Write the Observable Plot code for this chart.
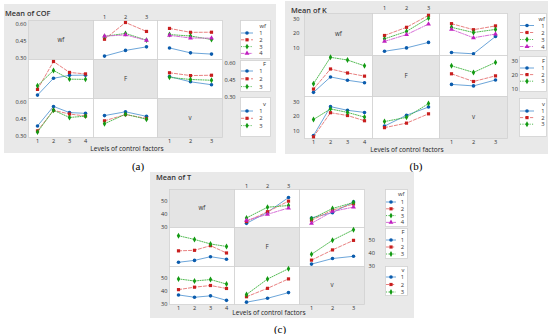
<!DOCTYPE html>
<html><head><meta charset="utf-8">
<script src="https://cdn.jsdelivr.net/npm/d3@7"></script>
<script src="https://cdn.jsdelivr.net/npm/@observablehq/plot@0.6"></script>
<style>
body{margin:0;background:#fff;font-family:"Open Sans",sans-serif;}
#root{position:relative;width:550px;height:334px;overflow:hidden;background:#fff;}
</style></head><body><div id="root"></div><script>
// ---------- data ----------
const factorNames = ["wf", "F", "v"];
const wfLevels = ["1", "2", "3", "4"];
const fLevels = ["1", "2", "3"];
const vLevels = ["1", "2", "3"];
const factorLevels = [wfLevels, fLevels, vLevels];

// COF means: rows = first factor level, cols = second factor level
const cofWfF = [[0.317, 0.368, 0.400], [0.468, 0.618, 0.538], [0.494, 0.520, 0.460], [0.496, 0.507, 0.458]];
const cofWfV = [[0.390, 0.346, 0.335], [0.565, 0.530, 0.531], [0.510, 0.497, 0.466], [0.503, 0.479, 0.478]];
const cofFV = [[0.483, 0.436, 0.410], [0.517, 0.492, 0.495], [0.476, 0.457, 0.450]];
// K means
const kWfF = [[7.5, 9.9, 13.8], [18.7, 24.5, 33.0], [16.3, 21.6, 31.0], [14.5, 19.3, 26.8]];
const kWfV = [[6.6, 5.7, 18.0], [27.1, 22.8, 25.5], [24.5, 20.8, 23.0], [23.0, 17.1, 19.7]];
const kFV = [[13.3, 12.2, 16.5], [21.0, 15.4, 19.5], [26.8, 22.0, 29.3]];
// T means
const tWfF = [[33.0, 41.6, 53.0], [34.4, 42.0, 50.2], [37.2, 45.5, 46.8], [35.3, 40.0, 44.9]];
const tWfV = [[37.2, 41.3, 49.6], [35.4, 43.2, 48.0], [36.5, 44.5, 49.1], [33.0, 42.2, 45.6]];
const tFV = [[31.6, 35.8, 37.5], [34.6, 42.3, 49.5], [39.0, 49.6, 57.5]];

const cofTicks = [0.30, 0.45, 0.60];
const kTicks = [10, 20, 30];
const tTicks = [30, 40, 50];

// ---------- styles ----------
const seriesStroke = ["#5b9bd5", "#e57373", "#3fb33f", "#d35fd3"];
const seriesFill = ["#0b5cad", "#c81e1e", "#139a13", "#c020c0"];
const seriesDash = [null, "3.2,1.8", "1.1,1.3", "3.5,1.3,1,1.3"];
const seriesSymbol = ["circle", "square", "diamond", "triangle"];
const d3Symbols = [d3.symbolCircle, d3.symbolSquare, d3.symbolDiamond, d3.symbolTriangle];
const DOT_R = 1.8;
const FONT = "'Open Sans', sans-serif";

const panels = [
  {
    tables: {"01": cofWfF, "02": cofWfV, "12": cofFV},
    box: [4, 4, 272, 149], title: "Mean of COF", titleXY: [5, 14],
    grid: {x: 28, y: 20, cw: 64.7, ch: 39},
    yDomain: [0.2866, 0.636], ticks: cofTicks, fmt: d3.format(".2f"),
    pad: {left: 2, right: 2, top: 2, bottom: 1.6},
    legend: {x: 240, w: 31, sw: [1, 13], mx: 7, lx: 21, tx: 26,
      boxes: [{t: 20, b: 59, ty: 26, fy: 33, p: 6.8}, {t: 60, b: 92, ty: 63.5, fy: 71, p: 7.8}, {t: 97, b: 137, ty: 104, fy: 111, p: 7.3}]},
    xlab: [127, 149], tag: "(a)", tagXY: [138, 166]
  },
  {
    tables: {"01": kWfF, "02": kWfV, "12": kFV},
    box: [285, 1, 263, 153], title: "Mean of K", titleXY: [291, 10.5],
    grid: {x: 304, y: 13, cw: 67.7, ch: 41.7},
    yDomain: [4.5, 34.3], ticks: kTicks, fmt: d3.format("d"),
    pad: {left: 5, right: 4, top: 3.5, bottom: 2},
    legend: {x: 519, w: 28, sw: [1, 15], mx: 8, lx: 24, tx: 26,
      boxes: [{t: 13, b: 51, ty: 19, fy: 25.5, p: 7}, {t: 56, b: 92, ty: 61, fy: 68, p: 6.6}, {t: 98, b: 137, ty: 104, fy: 111, p: 6.6}]},
    xlab: [407, 150], tag: "(b)", tagXY: [416, 166]
  },
  {
    tables: {"01": tWfF, "02": tWfV, "12": tFV},
    box: [150, 172, 264, 146], title: "Mean of T", titleXY: [156, 178],
    grid: {x: 169, y: 189, cw: 65, ch: 38.3},
    yDomain: [29.8, 59.2], ticks: tTicks, fmt: d3.format("d"),
    pad: {left: 2, right: 4, top: 2, bottom: 1.4},
    legend: {x: 385, w: 23, sw: [1, 11], mx: 6, lx: 17.5, tx: 19.5,
      boxes: [{t: 189, b: 227, ty: 194, fy: 202, p: 6.8}, {t: 228, b: 259, ty: 232, fy: 240, p: 7}, {t: 266, b: 296, ty: 270, fy: 277, p: 7.5}]},
    xlab: [269, 313], tag: "(c)", tagXY: [280, 329]
  }
];

const root = document.getElementById("root");

function txt(s, x, y, css, anchor) {
  const d = document.createElement("div");
  d.textContent = s;
  d.style.cssText = `position:absolute;left:${x}px;top:${y}px;line-height:1;white-space:nowrap;transform:translate(${anchor === "start" ? "0" : "-50%"},-50%);${css}`;
  root.appendChild(d);
}

function value(P, r, c, s, k) {
  return r < c ? P.tables[`${r}${c}`][s][k] : P.tables[`${c}${r}`][k][s];
}

function drawLegend(L, box, f) {
  const levels = factorLevels[f];
  const w = L.w, h = box.b - box.t;
  const svg = d3.create("svg").attr("width", w).attr("height", h)
    .style("position", "absolute").style("left", L.x + "px").style("top", box.t + "px")
    .style("overflow", "visible").style("font-family", FONT).style("font-size", "5.8px");
  svg.append("rect").attr("x", 0.5).attr("y", 0.5).attr("width", w - 1).attr("height", h - 1)
    .attr("fill", "#fff").attr("stroke", "#d2d2d2").attr("stroke-width", 0.8);
  svg.append("text").attr("x", L.tx).attr("y", box.ty - box.t).attr("dy", "0.35em")
    .attr("text-anchor", "end").attr("fill", "#333").text(factorNames[f]);
  levels.forEach((lv, i) => {
    const y = box.fy - box.t + i * box.p;
    svg.append("line").attr("x1", L.sw[0]).attr("x2", L.sw[1]).attr("y1", y).attr("y2", y)
      .attr("stroke", seriesStroke[i]).attr("stroke-width", 0.9).attr("stroke-dasharray", seriesDash[i]);
    svg.append("path").attr("transform", `translate(${L.mx},${y})`)
      .attr("d", d3.symbol(d3Symbols[i], Math.PI * DOT_R * DOT_R)()).attr("fill", seriesFill[i]);
    svg.append("text").attr("x", L.lx).attr("y", y).attr("dy", "0.35em")
      .attr("text-anchor", "middle").attr("fill", "#333").text(lv);
  });
  root.appendChild(svg.node());
}

function drawPanel(P) {
  const [bl, bt, bw, bh] = P.box;
  const bg = document.createElement("div");
  bg.style.cssText = `position:absolute;left:${bl}px;top:${bt}px;width:${bw}px;height:${bh}px;background:#e9e9e9;`;
  root.appendChild(bg);
  txt(P.title, P.titleXY[0], P.titleXY[1], `font-family:${FONT};font-size:7.4px;font-weight:600;color:#333;`, "start");

  const G = P.grid;
  const xs = [0, 1, 2, 3].map(i => Math.round(G.x + i * G.cw));
  const ys = [0, 1, 2, 3].map(i => Math.round(G.y + i * G.ch));

  for (let r = 0; r < 3; r++) {
    for (let c = 0; c < 3; c++) {
      const ml = (c === 0 && r !== 1) ? 24 : 0;
      const mr = (c === 2 && r === 1) ? 24 : 0;
      const mt = (r === 0 && c === 1) ? 12 : 0;
      const mb = (r === 2 && c !== 1) ? 12 : 0;
      const w = xs[c + 1] - xs[c], h = ys[r + 1] - ys[r];
      const xLevels = factorLevels[c];
      const marks = [Plot.frame({fill: r === c ? "#e4e4e4" : "#ffffff", stroke: "#d2d2d2", strokeWidth: 0.8})];
      if (r === c) {
        marks.push(Plot.text([factorNames[r]], {text: d => d, frameAnchor: "middle", fontSize: 6.2, fill: "#333"}));
        marks.push(Plot.dot([], {x: d => d, y: d => d}));
      } else {
        factorLevels[r].forEach((lv, s) => {
          const data = xLevels.map((k, ki) => ({x: k, y: value(P, r, c, s, ki)}));
          marks.push(Plot.line(data, {x: "x", y: "y", stroke: seriesStroke[s], strokeWidth: 0.9, strokeDasharray: seriesDash[s]}));
          marks.push(Plot.dot(data, {x: "x", y: "y", symbol: seriesSymbol[s], fill: seriesFill[s], r: DOT_R}));
        });
      }
      const svg = Plot.plot({
        width: w + ml + mr, height: h + mt + mb,
        marginLeft: ml, marginRight: mr, marginTop: mt, marginBottom: mb,
        x: {type: "point", domain: xLevels, padding: 0.5, axis: mt ? "top" : (mb ? "bottom" : null),
            tickSize: 0, tickPadding: mt ? P.pad.top : P.pad.bottom, label: null},
        y: {domain: P.yDomain, axis: ml ? "left" : (mr ? "right" : null), ticks: P.ticks, tickFormat: P.fmt,
            tickSize: 0, tickPadding: ml ? P.pad.left : P.pad.right, label: null},
        style: {background: "transparent", overflow: "visible", fontSize: "5.6px", fontFamily: FONT, color: "#333"},
        marks
      });
      svg.style.position = "absolute";
      svg.style.left = (xs[c] - ml) + "px";
      svg.style.top = (ys[r] - mt) + "px";
      svg.style.maxWidth = "none";
      root.appendChild(svg);
    }
  }
  P.legend.boxes.forEach((box, f) => drawLegend(P.legend, box, f));
  txt("Levels of control factors", P.xlab[0], P.xlab[1], `font-family:${FONT};font-size:6.6px;color:#222;`);
  txt(P.tag, P.tagXY[0], P.tagXY[1], `font-family:'Liberation Serif',serif;font-size:11px;color:#000;`);
}

panels.forEach(drawPanel);
</script></body></html>
